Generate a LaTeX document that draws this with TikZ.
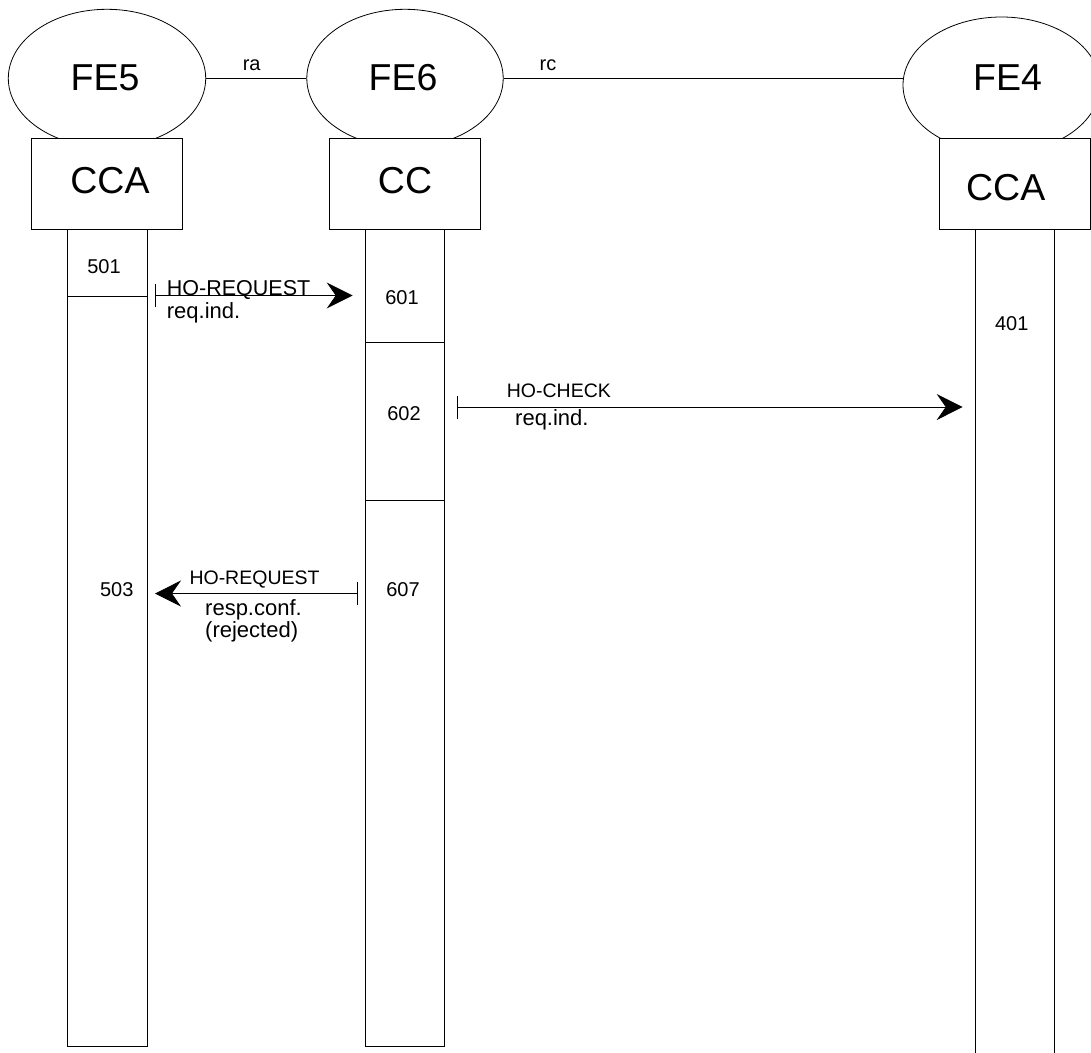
\documentclass[tikz,border=0pt]{standalone}
\usepackage{fontspec}
\setmainfont{Liberation Sans}
\usetikzlibrary{shapes.geometric,arrows.meta}
\tikzset{
  ent/.style={ellipse, draw, line width=0.8pt, inner sep=0pt},
  fbox/.style={draw, fill=white, line width=0.8pt, rectangle, inner sep=0pt},
  big/.style={font=\fontsize{37.5}{40}\selectfont, anchor=base, inner sep=0pt},
  msg/.style={font=\fontsize{22}{24}\selectfont, anchor=base west, inner sep=0pt},
  msgl/.style={font=\fontsize{21.5}{24}\selectfont, anchor=base west, inner sep=0pt},
  msgs/.style={font=\fontsize{19.5}{22}\selectfont, anchor=base west, inner sep=0pt},
  num/.style={font=\fontsize{20}{22}\selectfont, anchor=base, inner sep=0pt},
  lnk/.style={font=\fontsize{20}{22}\selectfont, anchor=base, inner sep=0pt},
  life/.style={line width=0.8pt},
  sig/.style={line width=0.9pt, {Bar[width=23pt,line width=0.9pt]}-{Stealth[length=26pt,width=26pt,inset=9pt]}}
}
\begin{document}
\begin{tikzpicture}[x=1pt,y=-1pt]
\path[use as bounding box] (0,0) rectangle (1091,1052);
\clip (0,0) rectangle (1091,1052);
% entities
\node[ent, minimum width=197.4pt, minimum height=138pt] (fe5) at (107,78.3) {};
\node[ent, minimum width=196.4pt, minimum height=138pt] (fe6) at (405,78.3) {};
\node[ent, minimum width=197pt, minimum height=136pt] (fe4) at (1001.5,85) {};
\node[big] (fe5t) at (105,90) {FE5};
\node[big] (fe6t) at (403,90) {FE6};
\node[big] (fe4t) at (1007.6,90) {FE4};
% relations
\draw[line width=0.8pt] (fe5.east) -- (fe6.west);
\draw[line width=0.8pt] (fe6.east) -- (fe6.east -| fe4.west);
\node[lnk] (ra) at (251.7,70) {ra};
\node[lnk] (rc) at (548,70) {rc};
% functional boxes
\node[fbox, minimum width=151pt, minimum height=90.7pt] (b5) at (107.2,183.65) {};
\node[fbox, minimum width=151.6pt, minimum height=90.7pt] (b6) at (404.7,183.65) {};
\node[fbox, minimum width=151pt, minimum height=90.7pt] (b4) at (1014.5,183.65) {};
\node[big] (b5t) at (110,193.3) {CCA};
\node[big] (b6t) at (405,193.3) {CC};
\node[big] (b4t) at (1005.7,200) {CCA};
% lifelines
\draw[life] (67.7,229) rectangle (147,1046);
\draw[life] (365,229) rectangle (444,1046);
\draw[life] (975,229) -- (975,1053) (1054,229) -- (1054,1053);
\draw[life] (67.7,296) -- (147,296);
\draw[life] (365,342) -- (444,342);
\draw[life] (365,500.5) -- (444,500.5);
% numbers
\node[num] (n501) at (104,273.3) {501};
\node[num] (n601) at (402,304.5) {601};
\node[num] (n602) at (404,420.7) {602};
\node[num] (n401) at (1011.7,330.7) {401};
\node[num] (n503) at (116.7,596) {503};
\node[num] (n607) at (403,596) {607};
% messages
\coordinate (m1s) at (155,295.5);
\coordinate (m1e) at (352.7,295.5);
\draw[sig] (m1s) -- (m1e);
\node[msgl] (m1a) at (166.7,295) {HO-REQUEST};
\node[msg] (m1b) at (166.7,318.3) {req.ind.};
\coordinate (m2s) at (456.7,407);
\coordinate (m2e) at (962.7,407);
\draw[sig] (m2s) -- (m2e);
\node[msgs] (m2a) at (506.7,397.3) {HO-CHECK};
\node[msg] (m2b) at (515,425.7) {req.ind.};
\coordinate (m3s) at (357.7,593.5);
\coordinate (m3e) at (155,593.5);
\draw[sig] (m3s) -- (m3e);
\node[msgs] (m3a) at (189.3,584.3) {HO-REQUEST};
\node[msg] (m3b) at (205,615) {resp.conf.};
\node[msg] (m3c) at (205,637.5) {(rejected)};
\end{tikzpicture}
\end{document}
